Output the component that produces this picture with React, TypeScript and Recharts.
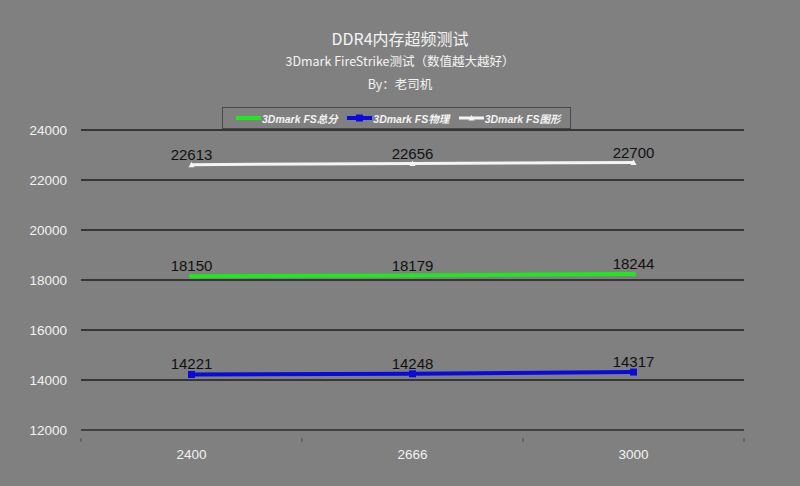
import { LineChart, Line, XAxis, YAxis, CartesianGrid, LabelList } from 'recharts';

const categories = ['2400', '2666', '3000'];
const totalScore = [18150, 18179, 18244];
const physicsScore = [14221, 14248, 14317];
const graphicsScore = [22613, 22656, 22700];
const yTicks = [12000, 14000, 16000, 18000, 20000, 22000, 24000];

const series = [
  { key: 'total', name: '3Dmark FS总分', color: '#1ee81e', width: 4, values: totalScore },
  { key: 'physics', name: '3Dmark FS物理', color: '#0a0adc', width: 4, values: physicsScore },
  { key: 'graphics', name: '3Dmark FS图形', color: '#f4f4f4', width: 3, values: graphicsScore },
];

// points sit in the middle of each category band, tick marks on the band edges
const data = categories.map((c, i) => {
  const row: Record<string, number | string> = { x: i + 0.5, label: c };
  series.forEach((s) => (row[s.key] = s.values[i]));
  return row;
});
const xTicks = categories.flatMap((_, i) => [i, i + 0.5]).concat(categories.length);

const XTick = (props: any) => {
  const { x, y, payload } = props;
  const v = payload.value;
  if (Number.isInteger(v)) {
    return <line x1={x} x2={x} y1={y} y2={y + 4} stroke="#4a4a4a" strokeWidth={1} />;
  }
  return (
    <text x={x} y={y + 21} textAnchor="middle" fill="#f2f2f2" fontSize={13.5} fontFamily="Arial, 'Liberation Sans'">
      {categories[Math.floor(v)]}
    </text>
  );
};

const Square = (props: any) => {
  const { cx, cy, stroke } = props;
  return <rect x={cx - 3.5} y={cy - 3.5} width={7} height={7} fill={stroke} />;
};

const Triangle = (props: any) => {
  const { cx, cy, stroke } = props;
  return <path d={`M${cx - 3},${cy + 2.5} L${cx + 3},${cy + 2.5} L${cx},${cy - 3} Z`} fill={stroke} />;
};

const SmallDot = (props: any) => {
  const { cx, cy, stroke } = props;
  return <circle cx={cx} cy={cy} r={2.5} fill={stroke} />;
};

const LegendBox = () => (
  <div
    style={{
      position: 'absolute',
      top: 107,
      left: 222,
      width: 349,
      border: '1px solid #484848',
      height: 22,
      display: 'flex',
      alignItems: 'center',
      boxSizing: 'border-box',
      paddingLeft: 13,
      fontFamily: 'Arial, "Noto Sans CJK SC"',
      fontSize: 10.5,
      fontWeight: 'bold',
      fontStyle: 'italic',
      color: '#f4f4f4',
    }}
  >
    {series.map((s) => (
      <div key={s.key} style={{ display: 'flex', alignItems: 'center', width: 113 }}>
        <svg width={25} height={8}>
          <line x1={0} x2={25} y1={4} y2={4} stroke={s.color} strokeWidth={s.width} />
          {s.key === 'physics' && <rect x={9} y={0.5} width={7} height={7} fill={s.color} />}
          {s.key === 'graphics' && <path d="M9.5,6.5 L15.5,6.5 L12.5,1 Z" fill={s.color} />}
        </svg>
        <span style={{ marginLeft: 1 }}>{s.name}</span>
      </div>
    ))}
  </div>
);

export default function App() {
  return (
    <div style={{ position: 'fixed', left: 0, top: 0, width: 800, height: 486, background: '#808080' }}>
      <div
        style={{
          position: 'absolute',
          top: 0,
          left: 0,
          width: 800,
          textAlign: 'center',
          color: '#f4f4f4',
          fontFamily: '"Noto Sans CJK SC", "Noto Sans", sans-serif',
        }}
      >
        <div style={{ position: 'absolute', top: 26, width: 800, fontSize: 16 }}>DDR4内存超频测试</div>
        <div style={{ position: 'absolute', top: 51, width: 800, fontSize: 12.5 }}>3Dmark FireStrike测试（数值越大越好）</div>
        <div style={{ position: 'absolute', top: 74, width: 800, fontSize: 12.5 }}>By：老司机</div>
      </div>
      <LineChart width={800} height={486} data={data} margin={{ top: 130, right: 56, bottom: 26, left: 6 }}>
        <CartesianGrid vertical={false} stroke="#1e1e1e" strokeWidth={1.5} />
        <XAxis
          dataKey="x"
          type="number"
          domain={[0, categories.length]}
          ticks={xTicks}
          interval={0}
          tick={<XTick />}
          tickLine={false}
          axisLine={{ stroke: '#4a4a4a', strokeWidth: 1.2 }}
          height={30}
        />
        <YAxis
          domain={[12000, 24000]}
          ticks={yTicks}
          interval={0}
          width={75}
          axisLine={false}
          tickLine={false}
          tickSize={0}
          tickMargin={14}
          tick={{ fill: '#f2f2f2', fontSize: 13.5, fontFamily: 'Arial, "Liberation Sans"' }}
        />
        {series.map((s) => (
          <Line
            key={s.key}
            dataKey={s.key}
            name={s.name}
            stroke={s.color}
            strokeWidth={s.width}
            isAnimationActive={false}
            dot={s.key === 'physics' ? <Square /> : s.key === 'graphics' ? <Triangle /> : <SmallDot />}
          >
            <LabelList
              dataKey={s.key}
              position="top"
              offset={5}
              fill="#111"
              fontSize={15}
              fontFamily="Arial, 'Liberation Sans'"
            />
          </Line>
        ))}
      </LineChart>
      <LegendBox />
    </div>
  );
}
